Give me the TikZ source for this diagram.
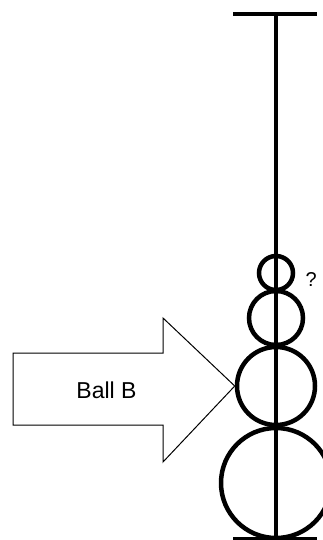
\documentclass[tikz,border=0pt]{standalone}
\usepackage{fontspec}
\setmainfont{Liberation Sans}
\usetikzlibrary{positioning}

\begin{document}
\begin{tikzpicture}[x=1pt, y=-1pt]
    \tikzstyle{ball}=[circle, draw=black, line width=4.5pt, inner sep=0pt]
    \tikzstyle{rod}=[draw=black, line width=4.5pt]
    \useasboundingbox (0,0) rectangle (323,540);

    % Rod with end bars
    \coordinate (rodtop) at (276,14);
    \coordinate (rodbot) at (276,539);
    \draw[rod] (233,14) -- (317,14);
    \draw[rod] (233,539) -- (317,539);
    \draw[rod] (rodtop) -- (rodbot);

    % Balls on the rod
    \foreach \y/\r/\name in {273/17/b1, 318/27/b2, 386/39/b3, 483/55/b4} {
        \node[ball, minimum size=2*\r pt] (\name) at (276,\y) {};
    }
    \node[font=\fontsize{20}{24}\selectfont, anchor=west] (qmark) at (302,280) {?};

    % Arrow pointing at ball B
    \coordinate (tip) at (b3.west);
    \draw[line width=1pt, fill=white] (13,353) -- (163,353) -- (163,318) -- (tip)
        -- (163,462) -- (163,425) -- (13,425) -- cycle;
    \node[font=\fontsize{23}{28}\selectfont] (lblB) at (106.5,390) {Ball B};
\end{tikzpicture}
\end{document}
